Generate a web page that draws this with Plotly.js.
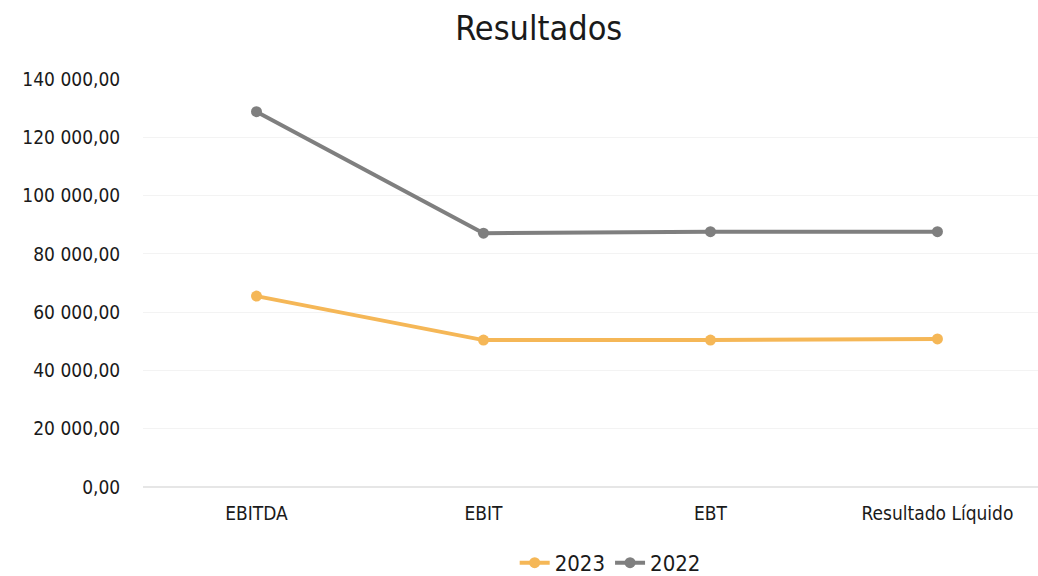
<!DOCTYPE html>
<html>
<head>
<meta charset="utf-8">
<script src="https://cdn.plot.ly/plotly-3.0.1.min.js"></script>
<style>html,body{margin:0;padding:0;background:#fff;}#chart{width:1038px;height:576px;}</style>
</head>
<body>
<div id="chart"></div>
<script>
const categories = ["EBITDA", "EBIT", "EBT", "Resultado Líquido"];
const values2023 = [65500, 50400, 50400, 50800];
const values2022 = [128800, 87100, 87600, 87600];
const tickValues = [0, 20000, 40000, 60000, 80000, 100000, 120000, 140000];
const tickLabels = ["0,00", "20 000,00", "40 000,00", "60 000,00", "80 000,00", "100 000,00", "120 000,00", "140 000,00"];

const FONT = "DejaVu Sans Condensed, DejaVu Sans, sans-serif";
const TXT = "#1a1a1a";

const traces = [
  {
    x: categories, y: values2023, name: "2023", type: "scatter", mode: "lines+markers",
    line: {color: "#F5B757", width: 4}, marker: {color: "#F5B757", size: 11}
  },
  {
    x: categories, y: values2022, name: "2022", type: "scatter", mode: "lines+markers",
    line: {color: "#7F7F7F", width: 4}, marker: {color: "#7F7F7F", size: 11}
  }
];

const layout = {
  width: 1038, height: 576,
  paper_bgcolor: "#fff", plot_bgcolor: "#fff",
  margin: {l: 143, r: 0, t: 79, b: 89, autoexpand: false},
  title: {text: "Resultados", x: 0.519, xanchor: "center", y: 0.951, yanchor: "middle",
          font: {family: FONT, size: 34, color: TXT}},
  font: {family: FONT, size: 18, color: TXT},
  showlegend: true,
  legend: {orientation: "h", x: 0.522, xanchor: "center", y: -0.186, yanchor: "middle",
           font: {family: FONT, size: 22, color: TXT}},
  xaxis: {type: "category", range: [-0.5, 3.443], showgrid: false, zeroline: false,
          automargin: false,
          showline: false, ticks: "outside", ticklen: 9, tickcolor: "rgba(0,0,0,0)",
          tickfont: {family: FONT, size: 19, color: TXT}},
  yaxis: {range: [0, 140000], tickvals: tickValues, ticktext: tickLabels,
          automargin: false,
          showgrid: true, gridcolor: "#F3F3F3", gridwidth: 1, zeroline: true,
          zerolinecolor: "#E6E6E6", zerolinewidth: 2, showline: false,
          ticks: "outside", ticklen: 18, tickcolor: "rgba(0,0,0,0)",
          tickfont: {family: FONT, size: 19, color: TXT}}
};

Plotly.newPlot("chart", traces, layout, {displayModeBar: false, staticPlot: true});
</script>
</body>
</html>
